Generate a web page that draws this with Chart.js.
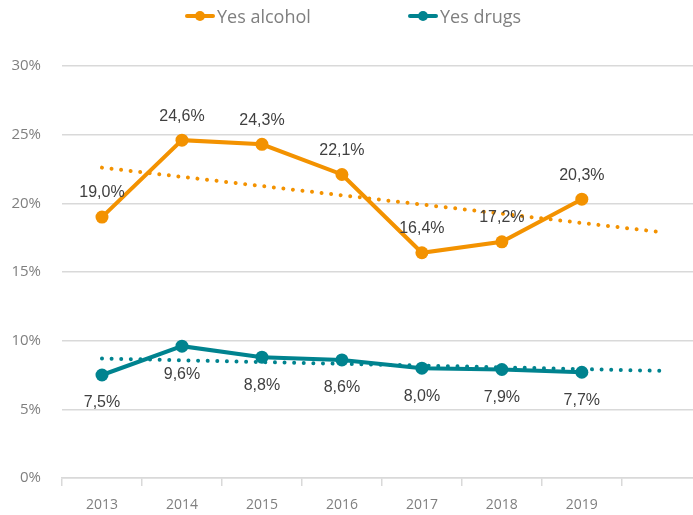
<!DOCTYPE html>
<html>
<head>
<meta charset="utf-8">
<script src="https://cdn.jsdelivr.net/npm/chart.js@4/dist/chart.umd.min.js"></script>
<style>
  html, body { margin: 0; padding: 0; background: #fff; }
  .wrap { position: relative; width: 693px; height: 515px; }
  .legend { position: absolute; top: 0; left: 0; width: 693px; height: 32px; font: 18px "Open Sans", sans-serif; color: #7f7f7f; }
  .legend .item { position: absolute; top: 4px; display: flex; align-items: center; height: 24px; }
  .legend .sym { position: relative; width: 30px; height: 24px; margin-right: 2px; }
  .legend .sym::before { content: ''; position: absolute; left: 0; right: 0; top: 10px; height: 4px; background: var(--c); border-radius: 2px; }
  .legend .sym::after { content: ''; position: absolute; left: 10px; top: 7px; width: 10px; height: 10px; border-radius: 50%; background: var(--c); }
</style>
</head>
<body>
<div class="wrap">
  <canvas id="chart" width="693" height="515"></canvas>
  <div class="legend">
    <div class="item" style="left:185px"><span class="sym" style="--c:#f39200"></span>Yes alcohol</div>
    <div class="item" style="left:408px"><span class="sym" style="--c:#00838f"></span>Yes drugs</div>
  </div>
</div>
<script>
  // Jahre und Anteile (in %)
  const years = ['2013', '2014', '2015', '2016', '2017', '2018', '2019'];
  const alcohol = [19.0, 24.6, 24.3, 22.1, 16.4, 17.2, 20.3];
  const drugs = [7.5, 9.6, 8.8, 8.6, 8.0, 7.9, 7.7];
  // Trendlinien: Start- und Endpunkt (eine Periode über 2019 hinaus)
  const trendX = [0, 7];
  const alcoholTrend = [22.6, 17.9];
  const drugsTrend = [8.7, 7.8];
  const yTicks = [0, 5, 10, 15, 20, 25, 30];

  const ORANGE = '#f39200', TEAL = '#00838f', GRID = '#d9d9d9';
  const pts = arr => arr.map((y, i) => ({ x: i, y }));
  const trend = arr => arr.map((y, i) => ({ x: trendX[i], y }));
  const fmt = v => v.toFixed(1).replace('.', ',') + '%';

  // Wertlabels über (Alkohol) bzw. unter (Drogen) den Punkten
  const valueLabels = {
    id: 'valueLabels',
    afterDatasetsDraw(c) {
      const { ctx } = c;
      ctx.save();
      ctx.font = '16px "Liberation Sans", Arial, sans-serif';
      ctx.fillStyle = '#404040';
      ctx.textAlign = 'center';
      ctx.textBaseline = 'middle';
      c.data.datasets.forEach((ds, di) => {
        if (ds.labelShift == null) return;
        c.getDatasetMeta(di).data.forEach((p, i) => {
          ctx.fillText(fmt(ds.data[i].y), p.x, p.y + ds.labelShift);
        });
      });
      ctx.restore();
    },
  };

  const dotted = { borderWidth: 4, borderDash: [0.01, 9.6], borderCapStyle: 'round', pointRadius: 0, fill: false, tension: 0 };

  new Chart(document.getElementById('chart'), {
    type: 'line',
    data: {
      datasets: [
        { label: 'trend alcohol', data: trend(alcoholTrend), borderColor: ORANGE, ...dotted },
        { label: 'trend drugs', data: trend(drugsTrend), borderColor: TEAL, ...dotted },
        { label: 'Yes alcohol', data: pts(alcohol), borderColor: ORANGE, backgroundColor: ORANGE, borderWidth: 4,
          pointRadius: 6.5, pointBorderWidth: 0, pointBackgroundColor: ORANGE, labelShift: -24 },
        { label: 'Yes drugs', data: pts(drugs), borderColor: TEAL, backgroundColor: TEAL, borderWidth: 4,
          pointRadius: 6.5, pointBorderWidth: 0, pointBackgroundColor: TEAL, labelShift: 28 },
      ],
    },
    options: {
      responsive: false,
      animation: false,
      layout: { autoPadding: false, padding: { top: 66, right: 0, bottom: 0, left: 0 } },
      plugins: { legend: { display: false }, tooltip: { enabled: false } },
      scales: {
        x: {
          type: 'linear',
          min: -0.5,
          max: 7.39,
          afterBuildTicks: s => { s.ticks = years.map((_, i) => ({ value: i })); },
          // feste Achsenhöhe, kein Label-Überhang links/rechts
          afterFit: s => { s.height = 37; s.paddingLeft = 0; s.paddingRight = 0; },
          grid: { offset: true, drawOnChartArea: false, drawTicks: true, tickLength: 8, color: GRID, lineWidth: 1.5 },
          border: { display: true, color: GRID, width: 1.5 },
          ticks: { callback: v => years[v], color: '#7f7f7f', padding: 11, maxRotation: 0, autoSkip: false,
                   font: { family: '"Open Sans", sans-serif', size: 14 } },
        },
        y: {
          min: 0,
          max: 30,
          afterBuildTicks: s => { s.ticks = yTicks.map(v => ({ value: v })); },
          afterFit: s => { s.width = 62; },
          grid: { color: GRID, lineWidth: 1.5, drawTicks: false },
          border: { display: false },
          ticks: { callback: v => v + '%', color: '#7f7f7f', padding: 21,
                   font: { family: '"Open Sans", sans-serif', size: 15 } },
        },
      },
    },
    plugins: [valueLabels],
  });
</script>
</body>
</html>
